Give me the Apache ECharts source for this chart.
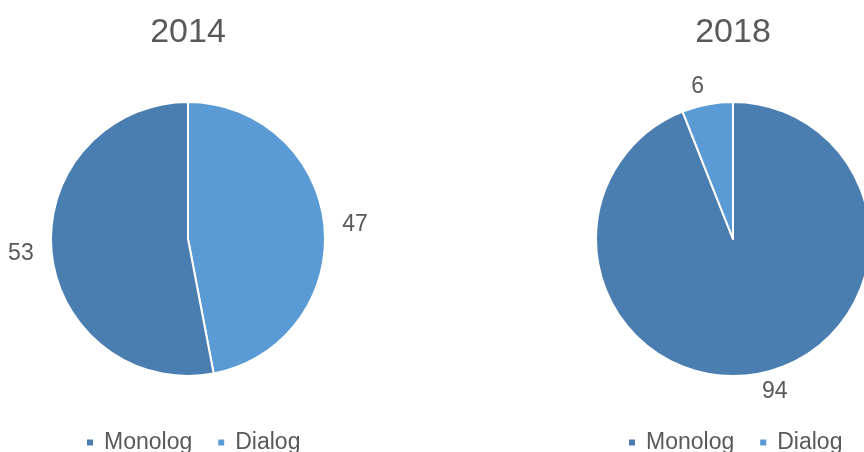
<!DOCTYPE html>
<html><head><meta charset="utf-8">
<script src="https://cdn.jsdelivr.net/npm/echarts@6/dist/echarts.min.js"></script>
<style>html,body{margin:0;padding:0;background:#fff}#c{width:864px;height:452px}</style>
</head><body><div id="c"></div>
<script>
const titles = ['2014', '2018'];
const legendNames = ['Monolog', 'Dialog'];
const pie2014Names = ['Dialog', 'Monolog'];
const pie2014Values = [47, 53];
const pie2018Names = ['Monolog', 'Dialog'];
const pie2018Values = [94, 6];
const colorMap = { Monolog: '#4a7eb1', Dialog: '#5b9bd5' };

function mk(names, values) {
  return names.map((n, i) => ({ name: n, value: values[i], itemStyle: { color: colorMap[n] } }));
}
const chart = echarts.init(document.getElementById('c'));
const txt = '#595959';
const font = 'Liberation Sans, Arial, sans-serif';
const pieCommon = {
  type: 'pie', radius: 137, startAngle: 90, clockwise: true, animation: false,
  itemStyle: { borderColor: '#fff', borderWidth: 2 },
  label: { show: true, position: 'outside', formatter: '{c}', color: txt, fontSize: 23, fontFamily: font,
    distanceToLabelLine: 0, overflow: 'none', bleedMargin: 0 },
  labelLine: { show: false, length: 18, length2: 0 },
  emphasis: { disabled: true }
};
const legendCommon = { data: legendNames, top: 431, padding: 0, itemWidth: 8, itemHeight: 8, itemGap: 24, icon: 'rect',
  textStyle: { color: txt, fontSize: 23, fontFamily: font, padding: [0, 0, 0, 5] } };
const titleStyle = { color: txt, fontSize: 34, fontWeight: 'normal', fontFamily: font };
chart.setOption({
  backgroundColor: '#fff',
  title: [
    { text: titles[0], left: 188, top: 16, padding: 0, textAlign: 'center', textStyle: titleStyle },
    { text: titles[1], left: 733, top: 16, padding: 0, textAlign: 'center', textStyle: titleStyle }
  ],
  legend: [
    Object.assign({}, legendCommon, { left: 85 }),
    Object.assign({}, legendCommon, { left: 627 })
  ],
  series: [
    Object.assign({}, pieCommon, { center: [188, 239], data: mk(pie2014Names, pie2014Values) }),
    Object.assign({}, pieCommon, { center: [733, 239], data: mk(pie2018Names, pie2018Values) })
  ]
});
</script></body></html>
